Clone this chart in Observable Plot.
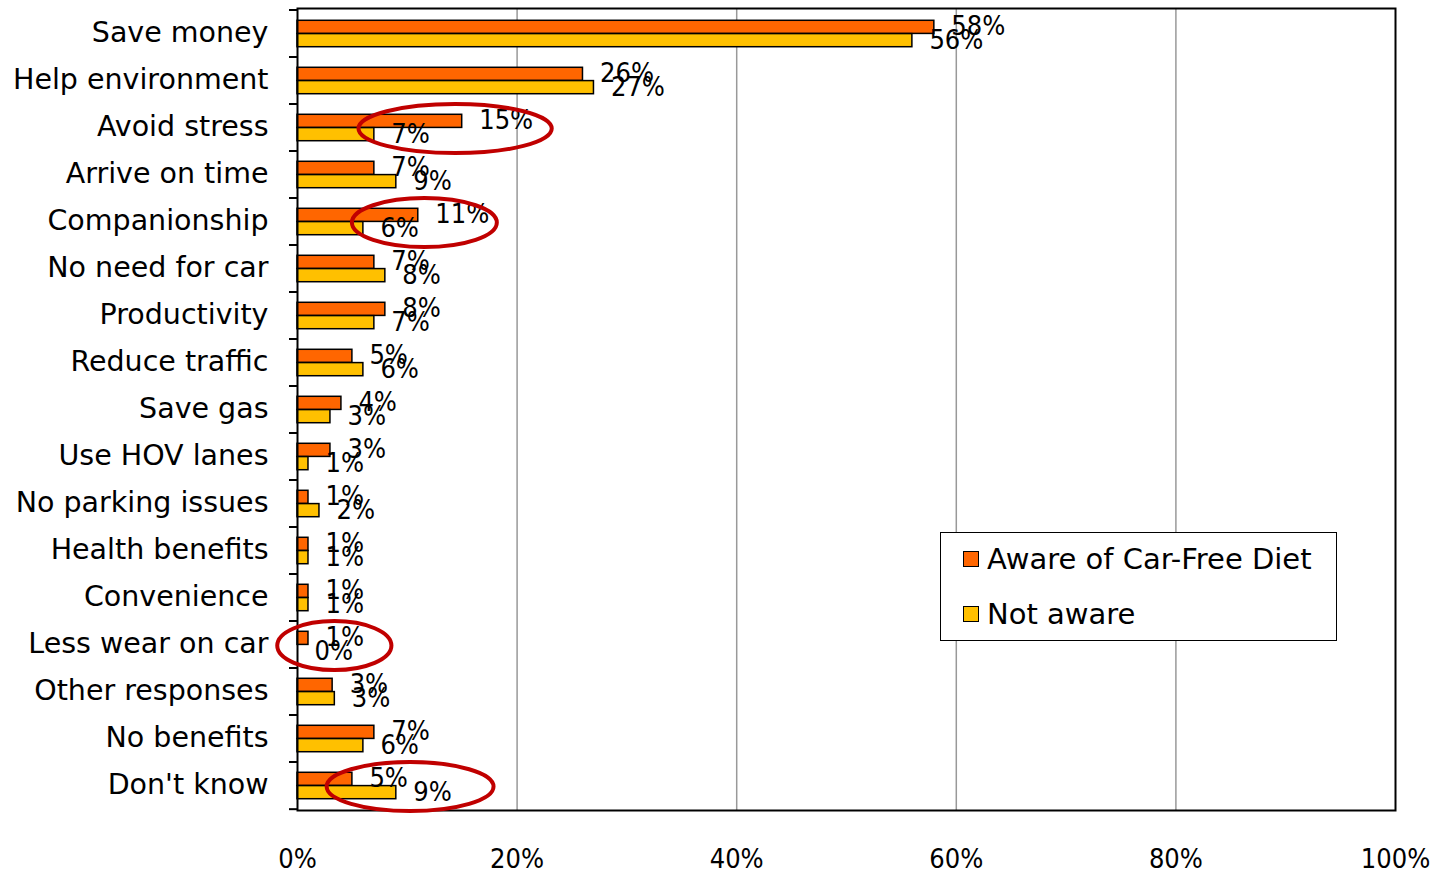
<!DOCTYPE html>
<html>
<head>
<meta charset="utf-8">
<script src="https://cdn.jsdelivr.net/npm/d3@7"></script>
<script src="https://cdn.jsdelivr.net/npm/@observablehq/plot@0.6"></script>
<style>
  html, body { margin: 0; padding: 0; background: #fff; }
  #wrap { position: relative; width: 1445px; height: 873px; font-family: "DejaVu Sans", sans-serif; }
  #legend { position: absolute; left: 940px; top: 532px; width: 395px; height: 107px; border: 1.5px solid #000; background: #fff; font-size: 29px; color: #000; }
  .item { position: absolute; left: 22px; display: flex; align-items: center; white-space: nowrap; }
  .sw { width: 14px; height: 14px; border: 1.5px solid #000; margin-right: 8px; }
</style>
</head>
<body>
<div id="wrap"></div>
<script>
const categories = ["Save money","Help environment","Avoid stress","Arrive on time","Companionship","No need for car","Productivity","Reduce traffic","Save gas","Use HOV lanes","No parking issues","Health benefits","Convenience","Less wear on car","Other responses","No benefits","Don't know"];
const aware    = [58, 26, 15, 7, 11, 7, 8, 5, 4, 3, 1, 1, 1, 1, 3.2, 7, 5];
const notAware = [56, 27, 7, 9, 6, 8, 7, 6, 3, 1, 2, 1, 1, 0, 3.4, 6, 9];
const series = ["Aware of Car-Free Diet", "Not aware"];
const colors = ["#ff6600", "#ffc000"];
const xTicks = [0, 20, 40, 60, 80, 100];
const gridValues = [20, 40, 60, 80];
// highlighted categories (annotation ellipses): centre value and half-width in % units
const hlCategories = ["Avoid stress", "Companionship", "Less wear on car", "Don't know"];
const hlCenters = [14.4, 11.6, 3.4, 10.3];
const hlHalfWidths = [8.8, 6.6, 5.2, 7.6];

const W = 1445, H = 873;
const mTop = 8, mBottom = 63, mLeft = 297, mRight = 50;
const step = (H - mTop - mBottom) / categories.length;
const barH = 13.3;

const rows = [];
categories.forEach((c, i) => {
  rows.push({category: c, series: series[0], value: aware[i]});
  rows.push({category: c, series: series[1], value: notAware[i]});
});
const rowsA = rows.filter(d => d.series === series[0]);
const rowsN = rows.filter(d => d.series === series[1]);
const hl = hlCategories.map((c, i) => ({category: c, x: hlCenters[i], hw: hlHalfWidths[i]}));

function boundaryTicks(index, scales, values, dims) {
  const g = d3.create("svg:g");
  const ys = categories.map(c => scales.y(c)).concat([scales.y(categories[categories.length - 1]) + step]);
  for (const y of ys) {
    g.append("line").attr("x1", dims.marginLeft - 8).attr("x2", dims.marginLeft)
      .attr("y1", y).attr("y2", y).attr("stroke", "#000").attr("stroke-width", 2);
  }
  return g.node();
}

function ellipses(index, scales, values, dims) {
  const g = d3.create("svg:g");
  for (const h of hl) {
    const cx = scales.x(h.x);
    const rx = scales.x(h.x + h.hw) - cx;
    const cy = scales.y(h.category) + step / 2 + 1;
    g.append("ellipse").attr("cx", cx).attr("cy", cy).attr("rx", rx).attr("ry", step * 0.52)
      .attr("fill", "none").attr("stroke", "#c00000").attr("stroke-width", 4);
  }
  return g.node();
}

const numFont = {fontFamily: "DejaVu Sans Condensed, DejaVu Sans, sans-serif", fontSize: 27};

const chart = Plot.plot({
  width: W,
  height: H,
  marginTop: mTop,
  marginBottom: mBottom,
  marginLeft: mLeft,
  marginRight: mRight,
  style: {fontFamily: "DejaVu Sans, sans-serif", fontSize: "28.5px", background: "#fff", color: "#000"},
  x: {domain: [0, 100], label: null},
  y: {domain: categories, padding: 0, label: null},
  marks: [
    Plot.ruleX(gridValues, {stroke: "#999", strokeWidth: 1.5}),
    Plot.barX(rowsA, {x: "value", y: "category", fill: colors[0], stroke: "#000", strokeWidth: 1.5,
      insetTop: step / 2 - barH, insetBottom: step / 2}),
    Plot.barX(rowsN, {x: "value", y: "category", fill: colors[1], stroke: "#000", strokeWidth: 1.5,
      insetTop: step / 2, insetBottom: step / 2 - barH}),
    Plot.frame({stroke: "#000", strokeWidth: 2}),
    boundaryTicks,
    Plot.axisX({ticks: xTicks, tickFormat: d => d + "%", tickSize: 0, tickPadding: 38, label: null, ...numFont}),
    Plot.axisY({tickSize: 0, tickPadding: 29, label: null, dy: -1, fontFamily: "DejaVu Sans, sans-serif", fontSize: 28.5}),
    Plot.text(rowsA, {x: "value", y: "category", text: d => Math.round(d.value) + "%", textAnchor: "start", dx: 17, dy: -barH / 2 - 1, fill: "#000", ...numFont}),
    Plot.text(rowsN, {x: "value", y: "category", text: d => Math.round(d.value) + "%", textAnchor: "start", dx: 17, dy: barH / 2, fill: "#000", ...numFont}),
    ellipses
  ]
});

const wrap = document.getElementById("wrap");
wrap.appendChild(chart);

const legend = document.createElement("div");
legend.id = "legend";
series.forEach((s, i) => {
  const item = document.createElement("div");
  item.className = "item";
  item.style.top = (i === 0 ? 9 : 64) + "px";
  const sw = document.createElement("div");
  sw.className = "sw";
  sw.style.background = colors[i];
  const t = document.createElement("span");
  t.textContent = s;
  item.appendChild(sw);
  item.appendChild(t);
  legend.appendChild(item);
});
wrap.appendChild(legend);
</script>
</body>
</html>
